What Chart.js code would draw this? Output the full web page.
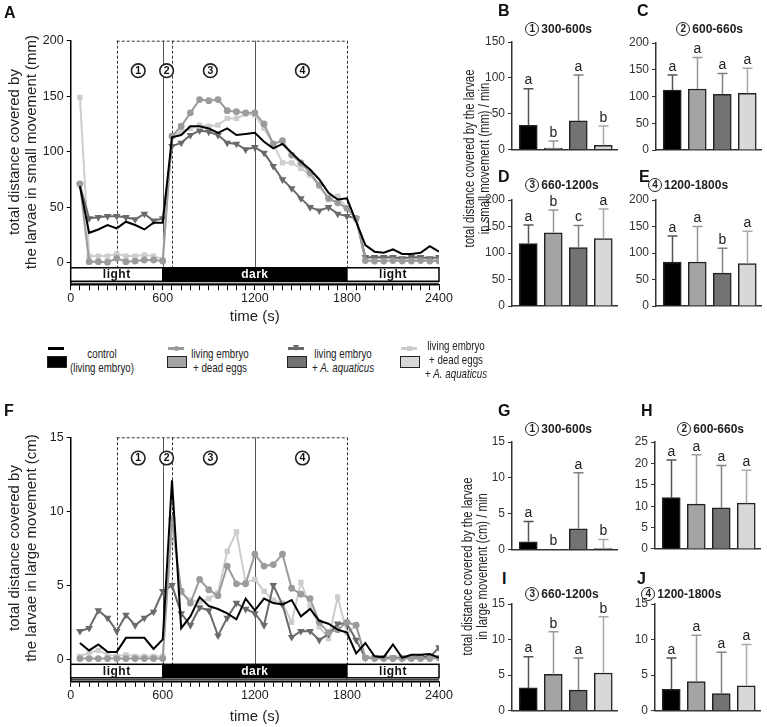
<!DOCTYPE html>
<html>
<head>
<meta charset="utf-8">
<script src="https://cdn.jsdelivr.net/npm/chart.js@4.4.1/dist/chart.umd.min.js"></script>
<style>
  body { margin: 0; background: #fff; }
  #fig { position: relative; width: 767px; height: 727px; overflow: hidden; background: #fff;
         font-family: 'Liberation Sans', Arial, sans-serif; color: #222; -webkit-font-smoothing: antialiased; }
  #fig canvas { position: absolute; }
  .lbl { position: absolute; font-weight: bold; font-size: 16px; line-height: 16px; color: #111; }
  .ytitle { position: absolute; text-align: center; white-space: nowrap; }
  .ptitle { position: absolute; font-weight: bold; font-size: 12px; line-height: 14px; white-space: nowrap; display: flex; align-items: center; }
  .circ { box-sizing: border-box; width: 14px; height: 14px; border: 1.6px solid #222; border-radius: 50%;
          font-size: 10px; line-height: 11px; text-align: center; margin-right: 2px; }
  .leg { position: absolute; font-size: 13px; line-height: 14px; text-align: center; white-space: nowrap; color: #222;
         transform: scaleX(0.75); }
  .sw { position: absolute; }
</style>
</head>
<body>
<div id="fig">
  <canvas id="chartA" width="460" height="330" style="left:0;top:0"></canvas>
  <canvas id="chartF" width="460" height="330" style="left:0;top:400px"></canvas>
</div>
<script>
// time points (s)
const times = [60, 120, 180, 240, 300, 360, 420, 480, 540, 600,
  660, 720, 780, 840, 900, 960, 1020, 1080, 1140, 1200,
  1260, 1320, 1380, 1440, 1500, 1560, 1620, 1680, 1740, 1800,
  1860, 1920, 1980, 2040, 2100, 2160, 2220, 2280, 2340, 2400];

// small movement (mm)
const ctrlSmall = [69, 27, 30, 34, 31, 37, 34, 30, 36, 36, 113, 115, 123, 123, 121, 117, 121, 115, 116, 117,
  109, 103, 107, 99, 91, 84, 75, 63, 57, 58, 37, 16, 10, 9, 12, 8, 8, 9, 15, 10];
const deadSmall = [71, 1, 1, 0.5, 4, 1, 1.5, 2.5, 2.5, 1.5, 114, 123, 135, 147, 146, 147, 137, 136, 135, 135,
  125, 107, 110, 97, 90, 81, 70, 58, 54, 49, 40, 2, 1.5, 1.5, 2, 1.5, 1.5, 2, 1.5, 1.5];
const aquaSmall = [70, 40, 41, 42, 42, 41, 39, 44, 38, 40, 105, 108, 115, 119, 118, 115, 108, 107, 102, 104,
  99, 87, 75, 67, 58, 50, 47, 50, 44, 42, 40, 5, 5, 5, 5, 4, 5, 5, 4, 5];
const bothSmall = [149, 6, 6, 6, 8, 6, 6, 7, 6, 3, 114, 118, 121, 124, 123, 124, 130, 130, 134, 133,
  121, 107, 90, 90, 85, 79, 69, 57, 60, 49, 39, 4, 4, 4, 4, 3, 3, 4, 3, 3];

// large movement (cm)
const ctrlLarge = [1.1, 0.6, 1.0, 0.5, 0.5, 1.45, 1.45, 1.45, 0.7, 1.35, 12.1, 2.1, 2.9, 4.2, 3.6, 3.4, 3.1, 2.7, 4.1, 3.3,
  4.1, 3.8, 3.7, 4.0, 2.9, 3.4, 2.6, 2.4, 2.0, 1.8, 0.4, 1.1, 0.2, 0.15, 1.0, 0.1, 0.3, 0.3, 0.35, 0.1];
const deadLarge = [0.05, 0.05, 0.05, 0.05, 0.05, 0.05, 0.05, 0.05, 0.05, 0.05, 9.5, 4.6, 3.8, 5.4, 4.7, 4.3, 6.3, 5.1, 5.1, 7.1,
  6.3, 6.4, 7.1, 4.8, 4.4, 4.1, 2.5, 1.8, 2.0, 2.5, 2.3, 0.1, 0.05, 0.05, 0.05, 0.05, 0.05, 0.05, 0.05, 0.1];
const aquaLarge = [1.9, 2.1, 3.3, 2.8, 1.9, 3.0, 2.3, 2.8, 3.2, 4.6, 5.0, 3.1, 2.3, 3.5, 3.3, 1.6, 2.8, 3.8, 3.4, 3.1,
  2.3, 5.0, 3.7, 1.5, 1.9, 1.9, 1.3, 1.7, 2.4, 2.4, 1.3, 0.1, 0.1, 0.1, 0.1, 0.1, 0.1, 0.15, 0.15, 0.8];
const bothLarge = [0.2, 0.45, 0.6, 0.3, 0.2, 0.3, 0.2, 0.2, 0.2, 0.2, 9.0, 4.5, 4.0, 3.9, 4.1, 4.5, 7.3, 8.6, 5.2, 5.4,
  4.6, 4.0, 3.8, 2.5, 5.2, 3.6, 2.2, 1.4, 4.2, 1.8, 2.3, 0.1, 0.1, 0.1, 0.1, 0.1, 0.1, 0.1, 0.1, 0.1];

// phases and light cycle
const phaseEdges = [300, 600, 660, 1200, 1800];
const phaseNums = ['1', '2', '3', '4'];
const phaseNumX = [440, 625, 910, 1510];
const cycleEdges = [0, 600, 1800, 2400];
const cycleNames = ['light', 'dark', 'light'];
const timeLabels = [0, 600, 1200, 1800, 2400];

// bar summaries: mean, mean+SD, letters
const smallP1 = [34, 2, 40, 6],        smallP1Err = [85, 12, 104, 33],    smallP1Let = ['a', 'b', 'a', 'b'];
const smallP2 = [112, 114, 104, 106],  smallP2Err = [140, 173, 143, 153], smallP2Let = ['a', 'a', 'a', 'a'];
const smallP3 = [118, 138, 110, 127],  smallP3Err = [153, 181, 152, 183], smallP3Let = ['a', 'b', 'c', 'a'];
const smallP4 = [83, 83, 62, 80],      smallP4Err = [132, 150, 109, 141], smallP4Let = ['a', 'a', 'b', 'a'];
const largeP1 = [1.1, 0, 2.9, 0.15],   largeP1Err = [3.9, 0, 10.7, 1.4],  largeP1Let = ['a', 'b', 'a', 'b'];
const largeP2 = [12, 10.5, 9.6, 10.7], largeP2Err = [20.8, 22, 19.5, 18.4], largeP2Let = ['a', 'a', 'a', 'a'];
const largeP3 = [3.2, 5.1, 2.9, 5.3],  largeP3Err = [7.6, 11.1, 7.4, 13.2], largeP3Let = ['a', 'b', 'a', 'b'];
const largeP4 = [3.0, 4.1, 2.4, 3.5],  largeP4Err = [7.4, 10.6, 8.2, 9.3],  largeP4Let = ['a', 'a', 'a', 'a'];

const groups = ['control (living embryo)', 'living embryo + dead eggs', 'living embryo + A. aquaticus', 'living embryo + dead eggs + A. aquaticus'];
const lineColors = ['#000000', '#9b9b9b', '#6a6a6a', '#cdcdcd'];
const barColors = ['#000000', '#a4a4a4', '#737373', '#d8d8d8'];
const errColors = ['#555555', '#999999', '#808080', '#aaaaaa'];
const markers = [null, 'circle', 'triangle', 'rect'];

const FONT = "'Liberation Sans', Arial, sans-serif";
const fig = document.getElementById('fig');

function fitY(w) { return s => { s.width = w; s.paddingTop = 0; s.paddingBottom = 0; }; }
function fitX(h) { return s => { s.height = h; s.paddingLeft = 0; s.paddingRight = 0; }; }

// dashed phase frames, light/dark band, circled phase numbers
const phasePlugin = {
  id: 'phases',
  beforeDatasetsDraw(chart, args, o) {
    const {ctx, scales: {x, y}} = chart;
    const top = y.getPixelForValue(y.max);
    const zero = y.getPixelForValue(0);
    const bandTop = zero + 5, bandBot = zero + 18.5;
    ctx.save();
    ctx.lineWidth = 1;
    ctx.strokeStyle = '#333';
    ctx.setLineDash([3, 2]);
    ctx.beginPath();
    ctx.moveTo(x.getPixelForValue(phaseEdges[0]), top + 0.5);
    ctx.lineTo(x.getPixelForValue(phaseEdges[phaseEdges.length - 1]), top + 0.5);
    ctx.stroke();
    phaseEdges.forEach(t => {
      const px = Math.round(x.getPixelForValue(t)) + 0.5;
      const solid = t === 600 || t === 1200;
      ctx.setLineDash(solid ? [] : [3, 2]);
      ctx.strokeStyle = solid ? '#555' : '#333';
      ctx.beginPath(); ctx.moveTo(px, top); ctx.lineTo(px, bandTop); ctx.stroke();
    });
    ctx.setLineDash([]);
    ctx.lineWidth = 1.5;
    ctx.font = 'bold 12px ' + FONT;
    ctx.letterSpacing = '0.5px';
    ctx.textAlign = 'center';
    ctx.textBaseline = 'middle';
    cycleNames.forEach((nm, i) => {
      const x0 = x.getPixelForValue(cycleEdges[i]), x1 = x.getPixelForValue(cycleEdges[i + 1]);
      ctx.fillStyle = nm === 'dark' ? '#000' : '#fff';
      ctx.fillRect(x0, bandTop, x1 - x0, bandBot - bandTop);
      ctx.strokeStyle = '#000';
      ctx.strokeRect(x0, bandTop, x1 - x0, bandBot - bandTop);
      ctx.fillStyle = nm === 'dark' ? '#fff' : '#111';
      ctx.fillText(nm, (x0 + x1) / 2, (bandTop + bandBot) / 2 + 0.5);
    });
    ctx.lineWidth = 1.2;
    ctx.beginPath();
    ctx.moveTo(x.getPixelForValue(0), zero + 20.5);
    ctx.lineTo(x.getPixelForValue(2400), zero + 20.5);
    ctx.stroke();
    ctx.restore();
  },
  afterDraw(chart, args, o) {
    const {ctx, scales: {x, y}} = chart;
    const cy = y.getPixelForValue(o.numY);
    ctx.save();
    phaseNums.forEach((n, i) => {
      const cx = x.getPixelForValue(phaseNumX[i]);
      ctx.beginPath();
      ctx.arc(cx, cy, 6.8, 0, Math.PI * 2);
      ctx.fillStyle = '#fff';
      ctx.fill();
      ctx.lineWidth = 1.6;
      ctx.strokeStyle = '#222';
      ctx.stroke();
      ctx.fillStyle = '#111';
      ctx.font = 'bold 10.5px ' + FONT;
      ctx.textAlign = 'center';
      ctx.textBaseline = 'middle';
      ctx.fillText(n, cx, cy + 0.5);
    });
    ctx.restore();
  }
};

function lineChart(id, series, yMax, yMin, yStep, numY, padTop) {
  return new Chart(document.getElementById(id), {
    type: 'line',
    data: {
      datasets: series.map((d, i) => ({
        label: groups[i],
        data: d.map((v, k) => ({x: times[k], y: v})),
        borderColor: lineColors[i],
        backgroundColor: lineColors[i],
        borderWidth: 2,
        pointStyle: markers[i] || 'circle',
        pointRadius: markers[i] ? 2.4 : 0,
        pointRotation: markers[i] === 'triangle' ? 180 : 0,
        tension: 0
      }))
    },
    options: {
      responsive: false,
      animation: false,
      layout: {padding: {left: 0, top: padTop, right: 21, bottom: 0}},
      plugins: {legend: {display: false}, tooltip: {enabled: false}, phases: {numY: numY}},
      scales: {
        x: {
          type: 'linear', min: 0, max: 2400,
          afterFit: fitX(330 - padTop - 244.5),
          border: {display: true, color: '#000', width: 1.5},
          grid: {display: true, drawOnChartArea: false, drawTicks: true, tickLength: 5, color: '#000', lineWidth: 1},
          ticks: {stepSize: 60, autoSkip: false, maxRotation: 0, padding: 1, color: '#222',
                  font: {family: FONT, size: 12.5},
                  callback: v => timeLabels.includes(v) ? v : ''},
          title: {display: true, text: 'time (s)', color: '#222', font: {family: FONT, size: 15}, padding: {top: 2, bottom: 4}}
        },
        y: {
          min: yMin, max: yMax,
          afterFit: fitY(70.7),
          border: {display: true, color: '#000', width: 1.5},
          grid: {display: true, drawOnChartArea: false, drawTicks: true, tickLength: 4, color: '#000'},
          ticks: {stepSize: yStep, includeBounds: false, padding: 3, color: '#222', font: {family: FONT, size: 12.5}}
        }
      }
    },
    plugins: [phasePlugin]
  });
}

lineChart('chartA', [ctrlSmall, deadSmall, aquaSmall, bothSmall], 200, -20.2, 50, 173, 40.7);
lineChart('chartF', [ctrlLarge, deadLarge, aquaLarge, bothLarge], 15, -1.52, 5, 13.6, 37.3);

// error bars and significance letters
const errPlugin = {
  id: 'errbars',
  afterDatasetsDraw(chart, args, o) {
    const {ctx, scales: {x, y}} = chart;
    ctx.save();
    o.means.forEach((m, i) => {
      const px = Math.round(x.getPixelForValue(i)) + 0.5;
      const y0 = y.getPixelForValue(m), y1 = y.getPixelForValue(o.errs[i]);
      if (o.errs[i] > m) {
        ctx.strokeStyle = errColors[i];
        ctx.lineWidth = 1.5;
        ctx.beginPath();
        ctx.moveTo(px, y0); ctx.lineTo(px, y1);
        ctx.moveTo(px - 5, y1); ctx.lineTo(px + 5, y1);
        ctx.stroke();
      }
      ctx.fillStyle = '#222';
      ctx.font = '14px ' + FONT;
      ctx.textAlign = 'center';
      ctx.textBaseline = 'bottom';
      ctx.fillText(o.letters[i], px, Math.min(y0, y1) - 1);
    });
    ctx.restore();
  }
};

function barChart(axX, top, bottom, max, step, means, errs, letters) {
  const c = document.createElement('canvas');
  const h = Math.round(bottom - top) + 24;
  c.width = 160; c.height = h;
  c.style.left = (axX - 45) + 'px';
  c.style.top = (top - 16) + 'px';
  fig.appendChild(c);
  return new Chart(c, {
    type: 'bar',
    data: {
      datasets: [{
        data: means.map((v, i) => ({x: i, y: v})),
        backgroundColor: barColors,
        borderColor: '#222',
        borderWidth: 1.5,
        borderSkipped: 'bottom',
        barThickness: 18
      }]
    },
    options: {
      responsive: false,
      animation: false,
      layout: {padding: {left: 0, top: 16, right: 10, bottom: h - 16 - (bottom - top) - 1}},
      plugins: {legend: {display: false}, tooltip: {enabled: false}, errbars: {means, errs, letters}},
      scales: {
        x: {
          type: 'linear', min: -0.65, max: 3.55, offset: false,
          afterFit: fitX(1),
          border: {display: true, color: '#333', width: 1.5},
          grid: {display: false, offset: false},
          ticks: {display: false}
        },
        y: {
          min: 0, max: max,
          afterFit: fitY(45),
          border: {display: true, color: '#333', width: 1.5},
          grid: {display: true, drawOnChartArea: false, drawTicks: true, tickLength: 4, color: '#333'},
          ticks: {stepSize: step, padding: 3, color: '#333', font: {family: FONT, size: 12}}
        }
      }
    },
    plugins: [errPlugin]
  });
}

barChart(511.7, 41.7, 149.3, 150, 50, smallP1, smallP1Err, smallP1Let);
barChart(656, 43, 150, 200, 50, smallP2, smallP2Err, smallP2Let);
barChart(511.7, 200, 306, 200, 50, smallP3, smallP3Err, smallP3Let);
barChart(656, 200, 306, 200, 50, smallP4, smallP4Err, smallP4Let);
barChart(511.7, 441.7, 549.3, 15, 5, largeP1, largeP1Err, largeP1Let);
barChart(655, 442.3, 549.3, 25, 5, largeP2, largeP2Err, largeP2Let);
barChart(511.7, 604, 710.7, 15, 5, largeP3, largeP3Err, largeP3Let);
barChart(655, 604, 710.7, 15, 5, largeP4, largeP4Err, largeP4Let);

// text around the charts
function add(html, cls, css) {
  const d = document.createElement('div');
  d.className = cls;
  d.innerHTML = html;
  Object.assign(d.style, css);
  fig.appendChild(d);
  return d;
}

[['A', 4, 7], ['B', 498, 5], ['C', 637, 5], ['D', 498, 171], ['E', 639, 171],
 ['F', 4, 405], ['G', 498, 405], ['H', 641, 405], ['I', 502, 573], ['J', 637, 573]]
  .forEach(([t, x, y]) => add(t, 'lbl', {left: x + 'px', top: (y - 2) + 'px'}));

[['1', '300-600s', 532.3, 29.3], ['2', '600-660s', 683.3, 29.3], ['3', '660-1200s', 532.3, 185], ['4', '1200-1800s', 655, 185],
 ['1', '300-600s', 532.3, 429.3], ['2', '600-660s', 684.3, 429.3], ['3', '660-1200s', 532.3, 594.3], ['4', '1200-1800s', 648.3, 594.3]]
  .forEach(([n, t, cx, cy]) => add('<div class="circ">' + n + '</div><span>' + t + '</span>', 'ptitle',
    {left: (cx - 7) + 'px', top: (cy - 7) + 'px', height: '14px'}));

function yTitle(lines, cx, cy, w, size, lh, squeeze) {
  add(lines.join('<br>'), 'ytitle', {
    left: (cx - w / 2) + 'px', top: (cy - lh * lines.length / 2) + 'px', width: w + 'px',
    height: (lh * lines.length) + 'px', fontSize: size + 'px', lineHeight: lh + 'px',
    transform: 'rotate(-90deg) scaleX(' + squeeze + ')'
  });
}
yTitle(['total distance covered by', 'the larvae in small movement (mm)'], 21.5, 152, 280, 15, 17, 1);
yTitle(['total distance covered by', 'the larvae in large movement (cm)'], 22, 548, 280, 15, 17, 1);
yTitle(['total distance covered by the larvae', 'in small movement (mm) / min'], 476, 158, 300, 14.5, 14.5, 0.78);
yTitle(['total distance covered by the larvae', 'in large movement (cm) / min'], 474, 566, 300, 14.5, 14.5, 0.78);

// legend
const legendX = [[47, 102], [167, 220], [287, 343], [400, 456]];
const legendText = ['control<br>(living embryo)', 'living embryo<br>+ dead eggs',
  'living embryo<br>+ <i>A. aquaticus</i>', 'living embryo<br>+ dead eggs<br>+ <i>A. aquaticus</i>'];
legendX.forEach(([sx, tx], i) => {
  add('', 'sw', {left: (sx + 1) + 'px', top: '347px', width: '16px', height: '2.5px', background: lineColors[i]});
  if (markers[i] === 'circle') {
    add('', 'sw', {left: (sx + 6.5) + 'px', top: '345.5px', width: '5px', height: '5px', borderRadius: '50%', background: lineColors[i]});
  } else if (markers[i] === 'triangle') {
    add('', 'sw', {left: (sx + 5.5) + 'px', top: '345px', width: 0, height: 0, borderLeft: '3.5px solid transparent',
      borderRight: '3.5px solid transparent', borderTop: '6px solid ' + lineColors[i]});
  } else if (markers[i] === 'rect') {
    add('', 'sw', {left: (sx + 6.5) + 'px', top: '345.5px', width: '5px', height: '5px', background: lineColors[i]});
  }
  add('', 'sw', {left: sx + 'px', top: '356px', width: '20px', height: '12px', boxSizing: 'border-box',
    background: barColors[i], border: '1.5px solid #222'});
  const lines = legendText[i].split('<br>').length;
  add(legendText[i], 'leg', {left: (tx - 60) + 'px', width: '120px', top: (lines === 3 ? 339 : 347) + 'px'});
});
</script>
</body>
</html>
